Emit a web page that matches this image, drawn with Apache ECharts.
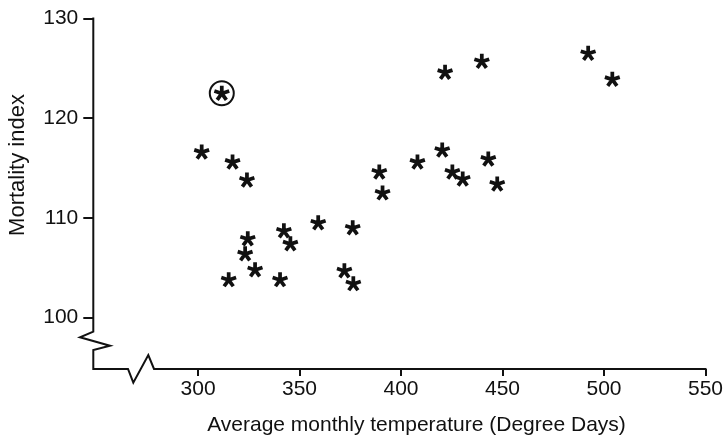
<!DOCTYPE html>
<html>
	<head>
		<meta charset="UTF-8">
		<title>Mortality index</title>
		<script src="https://cdn.jsdelivr.net/npm/echarts@6/dist/echarts.min.js"></script>
		<style type="text/css">
			* {
				margin: 0px;
				padding: 0px;
			}
			body {
				background: #fff;
			}
			#container {
				width: 726px;
				height: 438px;
			}
		</style>
	</head>
	<body>
		<div id="container"></div>
		<script>
			// temperature (degree days) and mortality index
			var temps = [301.8, 317.0, 324.1, 324.5, 323.2, 328.1, 315.1, 342.3, 345.5, 340.4,
				359.2, 376.2, 372.1, 376.5, 389.3, 390.9, 408.1, 420.3, 421.7, 425.3,
				430.4, 439.8, 443.0, 447.4, 492.2, 504.1];
			var mortality = [116.6, 115.6, 113.8, 107.9, 106.4, 104.8, 103.8, 108.7, 107.4, 103.8,
				109.5, 109.0, 104.7, 103.4, 114.6, 112.5, 115.6, 116.8, 124.6, 114.6,
				113.9, 125.7, 115.9, 113.4, 126.5, 123.9];
			// the circled (outlier) point
			var outlierTemp = [311.7];
			var outlierMortality = [122.5];

			var xTicks = [300, 350, 400, 450, 500, 550];
			var yTicks = [100, 110, 120, 130];

			var ink = '#111';
			var font = '"Liberation Sans", Arial, Helvetica, sans-serif';

			// 5-armed asterisk as a path symbol
			function asteriskPath() {
				var angles = [90, 18, -54, -126, 162];
				var h = 0.24, t0 = -0.1, t1 = 1;
				var s = '';
				for (var i = 0; i < angles.length; i++) {
					var a = angles[i] * Math.PI / 180;
					var dx = Math.cos(a), dy = -Math.sin(a);
					var nx = -dy, ny = dx;
					var p = [
						[dx * t0 + nx * h, dy * t0 + ny * h],
						[dx * t1 + nx * h, dy * t1 + ny * h],
						[dx * t1 - nx * h, dy * t1 - ny * h],
						[dx * t0 - nx * h, dy * t0 - ny * h]
					];
					s += 'M' + p[0][0].toFixed(3) + ' ' + p[0][1].toFixed(3);
					for (var k = 1; k < 4; k++) {
						s += ' L' + p[k][0].toFixed(3) + ' ' + p[k][1].toFixed(3);
					}
					s += ' Z ';
				}
				return 'path://' + s;
			}

			var xMin = 248.4, xMax = 550;
			var yMin = 94.85, yMax = 130;

			var pts = [];
			for (var i = 0; i < temps.length; i++) {
				pts.push([temps[i], mortality[i]]);
			}
			var outPts = [];
			for (var i = 0; i < outlierTemp.length; i++) {
				outPts.push([outlierTemp[i], outlierMortality[i]]);
			}

			var myChart = echarts.init(document.getElementById('container'));
			myChart.setOption({
				backgroundColor: '#fff',
				animation: false,
				grid: {
					left: 93.3,
					right: 20.3,
					top: 18.5,
					bottom: 69
				},
				xAxis: {
					type: 'value',
					min: xMin,
					max: xMax,
					axisLine: { show: false },
					splitLine: { show: false },
					axisTick: {
						show: true,
						customValues: xTicks,
						length: 7,
						lineStyle: { color: ink, width: 2 }
					},
					axisLabel: {
						customValues: xTicks,
						margin: 10,
						color: ink,
						fontSize: 21,
						fontFamily: font
					}
				},
				yAxis: {
					type: 'value',
					min: yMin,
					max: yMax,
					axisLine: { show: false },
					splitLine: { show: false },
					axisTick: {
						show: true,
						customValues: yTicks,
						length: 10,
						lineStyle: { color: ink, width: 2 }
					},
					axisLabel: {
						customValues: yTicks,
						margin: 15,
						color: ink,
						fontSize: 21,
						fontFamily: font
					}
				},
				series: [{
					type: 'scatter',
					data: pts,
					symbol: asteriskPath(),
					symbolSize: 16,
					symbolKeepAspect: true,
					itemStyle: { color: ink, opacity: 1 }
				}, {
					type: 'scatter',
					data: outPts,
					symbol: asteriskPath(),
					symbolSize: 16,
					symbolKeepAspect: true,
					itemStyle: { color: ink, opacity: 1 }
				}, {
					type: 'scatter',
					data: outPts,
					symbol: 'circle',
					symbolSize: 24,
					itemStyle: {
						color: 'rgba(0,0,0,0)',
						borderColor: ink,
						borderWidth: 2,
						opacity: 1
					}
				}]
			});

			// axis lines with the broken-scale zigzags
			var corner = myChart.convertToPixel({ gridIndex: 0 }, [xMin, yMin]);
			var topEnd = myChart.convertToPixel({ gridIndex: 0 }, [xMin, yMax]);
			var rightEnd = myChart.convertToPixel({ gridIndex: 0 }, [xMax, yMin]);
			var cx = corner[0], cy = corner[1];
			var axisPts = [
				[cx, topEnd[1] - 1],
				[cx, cy - 37.3],
				[cx - 13.3, cy - 31.7],
				[cx + 16.7, cy - 23.3],
				[cx, cy - 19],
				[cx, cy],
				[cx + 34.7, cy],
				[cx + 40, cy + 13.7],
				[cx + 55, cy - 14],
				[cx + 60.7, cy],
				[rightEnd[0] + 1, cy]
			];

			myChart.setOption({
				graphic: [{
					type: 'polyline',
					shape: { points: axisPts },
					style: { stroke: ink, lineWidth: 2, fill: null, lineJoin: 'miter' },
					z: 10
				}, {
					type: 'text',
					x: 416.5,
					y: 425,
					style: {
						text: 'Average monthly temperature (Degree Days)',
						font: '21px ' + font,
						fill: ink,
						align: 'center',
						verticalAlign: 'middle'
					}
				}, {
					type: 'text',
					x: 18,
					y: 165,
					rotation: Math.PI / 2,
					style: {
						text: 'Mortality index',
						font: '22px ' + font,
						fill: ink,
						align: 'center',
						verticalAlign: 'middle'
					}
				}]
			});
		</script>
	</body>
</html>
